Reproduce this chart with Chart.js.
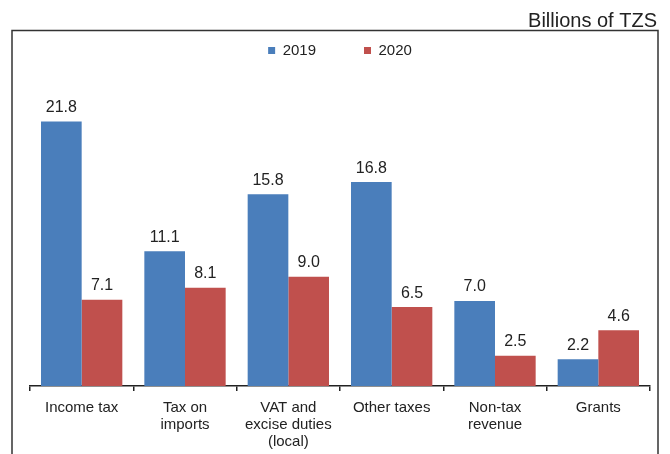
<!DOCTYPE html>
<html>
<head>
<meta charset="utf-8">
<script src="https://cdn.jsdelivr.net/npm/chart.js@4.4.1/dist/chart.umd.min.js"></script>
<style>
  html, body { margin: 0; padding: 0; background: #fff; }
</style>
</head>
<body>
<canvas id="revenue-chart" width="670" height="454"></canvas>
<script>
// revenue by source, billions of TZS
const categories = [
    ['Income tax'],
    ['Tax on', 'imports'],
    ['VAT and', 'excise duties', '(local)'],
    ['Other taxes'],
    ['Non-tax', 'revenue'],
    ['Grants']
];
const values2019 = [21.8, 11.1, 15.8, 16.8, 7.0, 2.2];
const values2020 = [7.1, 8.1, 9.0, 6.5, 2.5, 4.6];
const seriesNames = ['2019', '2020'];
const unitLabel = 'Billions of TZS';

const FONT = '"Liberation Sans", Arial, Helvetica, sans-serif';
const INK = '#222';

// box around the plot plus the unit caption on top
const framePlugin = {
    id: 'frame',
    beforeDraw(chart) {
        const ctx = chart.ctx;
        const left = 12, top = 30.5, right = chart.width - 12;
        ctx.save();
        ctx.strokeStyle = '#333';
        ctx.lineWidth = 1.5;
        ctx.beginPath();
        ctx.moveTo(left, chart.height);
        ctx.lineTo(left, top);
        ctx.lineTo(right, top);
        ctx.lineTo(right, chart.height);
        ctx.stroke();

        ctx.fillStyle = INK;
        ctx.font = '20px ' + FONT;
        ctx.textAlign = 'right';
        ctx.textBaseline = 'alphabetic';
        ctx.fillText(unitLabel, right - 1, 27);
        ctx.restore();
    }
};

// value printed above each bar
const valueLabels = {
    id: 'valueLabels',
    afterDatasetsDraw(chart) {
        const ctx = chart.ctx;
        ctx.save();
        ctx.fillStyle = INK;
        ctx.font = '16px ' + FONT;
        ctx.textAlign = 'center';
        ctx.textBaseline = 'bottom';
        chart.data.datasets.forEach((ds, i) => {
            chart.getDatasetMeta(i).data.forEach((bar, j) => {
                ctx.fillText(ds.data[j].toFixed(1), bar.x, bar.y - 6);
            });
        });
        ctx.restore();
    }
};

const ctx = document.getElementById('revenue-chart').getContext('2d');
new Chart(ctx, {
    type: 'bar',
    data: {
        labels: categories,
        datasets: [{
            label: seriesNames[0],
            data: values2019,
            backgroundColor: '#4A7EBB'
        }, {
            label: seriesNames[1],
            data: values2020,
            backgroundColor: '#C0504D'
        }]
    },
    options: {
        responsive: false,
        animation: false,
        categoryPercentage: 0.787,
        barPercentage: 1,
        layout: {
            padding: { left: 30, right: 20, top: -5, bottom: -4 }
        },
        plugins: {
            legend: {
                position: 'top',
                labels: {
                    boxWidth: 7,
                    boxHeight: 7,
                    padding: 48,
                    color: INK,
                    font: { family: FONT, size: 15 }
                }
            },
            tooltip: { enabled: false }
        },
        scales: {
            x: {
                border: { display: true, color: INK, width: 1.5 },
                grid: {
                    drawOnChartArea: false,
                    drawTicks: true,
                    tickLength: 5,
                    color: INK,
                    lineWidth: 1.5
                },
                ticks: {
                    color: INK,
                    padding: 8,
                    maxRotation: 0,
                    autoSkip: false,
                    font: { family: FONT, size: 15, lineHeight: 1.133 }
                }
            },
            y: {
                display: false,
                min: 0,
                max: 26.2
            }
        }
    },
    plugins: [framePlugin, valueLabels]
});
</script>
</body>
</html>
